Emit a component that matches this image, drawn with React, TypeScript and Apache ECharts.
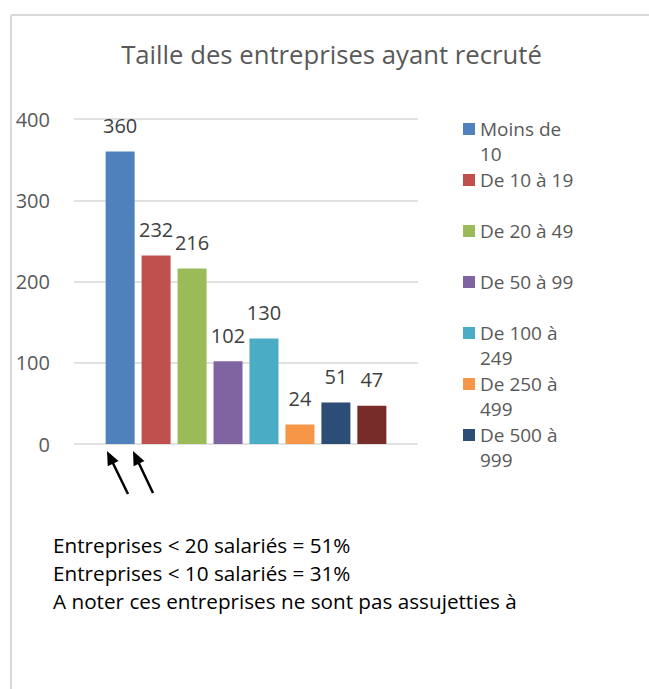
import React, { useEffect, useRef } from "react";
import * as echarts from "echarts";

const categories = [
  "Moins de 10",
  "De 10 à 19",
  "De 20 à 49",
  "De 50 à 99",
  "De 100 à 249",
  "De 250 à 499",
  "De 500 à 999",
  "1000 et plus",
];
const values = [360, 232, 216, 102, 130, 24, 51, 47];
const legendLines = [
  ["Moins de", "10"],
  ["De 10 à 19", ""],
  ["De 20 à 49", ""],
  ["De 50 à 99", ""],
  ["De 100 à", "249"],
  ["De 250 à", "499"],
  ["De 500 à", "999"],
];
const colors = ["#4F81BD", "#C0504D", "#9BBB59", "#8064A2", "#4BACC6", "#F79646", "#2C4D75", "#772C2A"];
const notes = [
  "Entreprises < 20 salariés = 51%",
  "Entreprises < 10 salariés = 31%",
  "A noter ces entreprises ne sont pas assujetties à",
];
const titleText = "Taille des entreprises ayant recruté";

const FONT = "'Open Sans', 'Noto Sans', sans-serif";

function arrow(tail: number[], tip: number[]) {
  const dx = tip[0] - tail[0];
  const dy = tip[1] - tail[1];
  const len = Math.sqrt(dx * dx + dy * dy);
  const ux = dx / len, uy = dy / len;
  const headLen = 14, half = 6;
  const bx = tip[0] - headLen * ux, by = tip[1] - headLen * uy;
  const nx = -uy, ny = ux;
  return [
    { type: "line", shape: { x1: tail[0], y1: tail[1], x2: bx + ux * 2, y2: by + uy * 2 }, style: { stroke: "#000", lineWidth: 2.5 } },
    { type: "polygon", shape: { points: [[tip[0], tip[1]], [bx + half * nx, by + half * ny], [bx - half * nx, by - half * ny]] }, style: { fill: "#000" } },
  ];
}

export default function App() {
  const ref = useRef<HTMLDivElement>(null);
  useEffect(() => {
    const chart = echarts.init(ref.current!, null, { renderer: "svg" });
    const legendMap: Record<string, string> = {};
    legendLines.forEach((l, i) => {
      legendMap[categories[i]] = "\n" + l[0] + "\n" + (l[1] || " ");
    });
    chart.setOption({
      animation: false,
      backgroundColor: "#ffffff",
      title: {
        text: titleText,
        left: 331.5,
        textAlign: "center",
        top: 41,
        padding: 0,
        textStyle: { fontFamily: FONT, fontSize: 25.7, fontWeight: "normal", color: "#595959" },
      },
      legend: {
        orient: "vertical",
        left: 463,
        top: 91.5,
        padding: 0,
        itemWidth: 12,
        itemHeight: 12,
        itemGap: -24,
        icon: "rect",
        data: categories.slice(0, legendLines.length),
        formatter: (name: string) => legendMap[name] || name,
        textStyle: { fontFamily: FONT, fontSize: 19, color: "#595959", lineHeight: 25 },
      },
      grid: { left: 74, right: 231, top: 119, bottom: 245, containLabel: false },
      xAxis: {
        type: "category",
        data: [""],
        axisLine: { show: false },
        axisTick: { show: false },
        axisLabel: { show: false },
      },
      yAxis: {
        type: "value",
        min: 0,
        max: 400,
        interval: 100,
        axisLine: { show: false },
        axisTick: { show: false },
        axisLabel: { fontFamily: FONT, fontSize: 20, color: "#595959", margin: 24 },
        splitLine: { lineStyle: { color: "#d9d9d9", width: 1.5 } },
      },
      series: categories.map((name, i) => ({
        type: "bar",
        name,
        data: [values[i]],
        barWidth: 29,
        barGap: "24%",
        itemStyle: { color: colors[i] },
        label: {
          show: true,
          position: "top",
          distance: 16,
          fontFamily: FONT,
          fontSize: 20,
          color: "#404040",
        },
      })),
      graphic: [
        { type: "line", shape: { x1: 11, y1: 15, x2: 649, y2: 15 }, style: { stroke: "#d9d9d9", lineWidth: 2 } },
        { type: "line", shape: { x1: 11, y1: 15, x2: 11, y2: 689 }, style: { stroke: "#d9d9d9", lineWidth: 2 } },
        ...arrow([128, 494], [107, 451]),
        ...arrow([153, 493], [133, 451]),
        ...notes.map((t, i) => ({
          type: "text",
          x: 53,
          y: 545 + i * 28,
          style: { text: t, fontFamily: FONT, fontSize: 20.7, fill: "#000000", textVerticalAlign: "middle", verticalAlign: "middle" },
        })),
      ],
    });
    return () => chart.dispose();
  }, []);
  return <div ref={ref} style={{ position: "fixed", left: 0, top: 0, width: 649, height: 689 }} />;
}
